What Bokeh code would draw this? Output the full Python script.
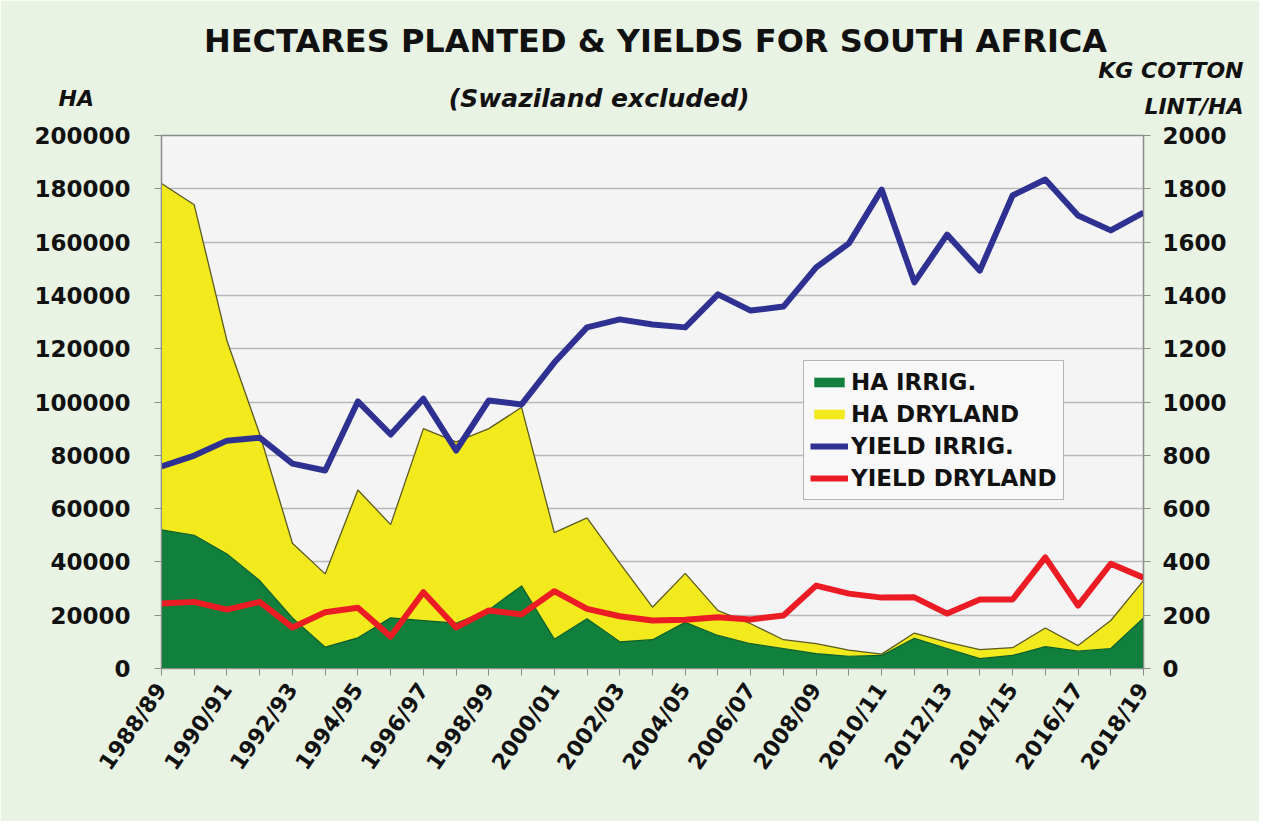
from bokeh.plotting import figure
from bokeh.models import (Range1d, LinearAxis, FixedTicker, Label, Legend, LegendItem,
                          BasicTickFormatter)
from bokeh.embed import file_html
from bokeh.resources import INLINE
import math

seasons = ["1988/89", "1989/90", "1990/91", "1991/92", "1992/93", "1993/94", "1994/95",
           "1995/96", "1996/97", "1997/98", "1998/99", "1999/00", "2000/01", "2001/02",
           "2002/03", "2003/04", "2004/05", "2005/06", "2006/07", "2007/08", "2008/09",
           "2009/10", "2010/11", "2011/12", "2012/13", "2013/14", "2014/15", "2015/16",
           "2016/17", "2017/18", "2018/19"]

ha_irrig = [52000, 50000, 43000, 33000, 19000, 8000, 11500, 19000, 18000, 17000, 22000,
            31000, 11000, 18700, 10000, 10800, 17300, 12400, 9300, 7500, 5600, 4600,
            4900, 11300, 7500, 3700, 4900, 8200, 6500, 7500, 19000]

ha_dryland = [130000, 124000, 80000, 55000, 28000, 27500, 55500, 35000, 72000, 68000, 68000,
              67000, 40000, 37800, 29500, 12200, 18400, 9300, 7500, 3300, 3700, 2300,
              500, 2000, 2400, 3400, 2900, 7000, 2100, 10500, 14000]

yield_irrig = [758, 799, 855, 866, 769, 743, 1002, 878, 1012, 818, 1006, 991, 1148, 1280,
               1310, 1291, 1280, 1404, 1343, 1358, 1505, 1595, 1797, 1449, 1628, 1493,
               1775, 1835, 1700, 1644, 1711]

yield_dryland = [244, 250, 221, 250, 154, 211, 228, 120, 286, 154, 218, 203, 290, 224, 196,
                 180, 183, 192, 184, 199, 311, 281, 266, 267, 206, 259, 259, 417, 236, 393, 341]

x = list(range(len(seasons)))
ha_total = [a + b for a, b in zip(ha_irrig, ha_dryland)]

FONT = "DejaVu Sans"
W, H = 1259, 821

p = figure(width=W, height=H, output_backend="svg", toolbar_location=None,
           x_range=Range1d(0, len(seasons) - 1), y_range=Range1d(0, 200000),
           min_border_left=161, min_border_right=W - 1143, min_border_top=135,
           min_border_bottom=H - 668)
p.title = None
p.extra_y_ranges = {"yield": Range1d(0, 2000)}

p.background_fill_color = "#F4F4F4"
p.border_fill_color = "#E9F3E3"
p.outline_line_color = "#8C8C8C"
p.outline_line_width = 1.5

p.xgrid.grid_line_color = None
p.ygrid.ticker = FixedTicker(ticks=list(range(0, 200001, 20000)))
p.ygrid.grid_line_color = "#B8B8B8"
p.ygrid.grid_line_width = 1.5

g_area = p.varea(x=x, y1=0, y2=ha_irrig, fill_color="#11803C")
y_area = p.varea(x=x, y1=ha_irrig, y2=ha_total, fill_color="#F3EA1E")
p.line(x, ha_total, line_color="#5B5A22", line_width=1.3)
p.line(x, ha_irrig, line_color="#0B5E2A", line_width=1.2)

b_line = p.line(x, yield_irrig, y_range_name="yield", line_color="#2E3192",
                line_width=6, line_join="round")
r_line = p.line(x, yield_dryland, y_range_name="yield", line_color="#EC1C24",
                line_width=6, line_join="round")

def style_axis(ax):
    ax.axis_line_color = "#8C8C8C"
    ax.major_tick_line_color = "#8C8C8C"
    ax.minor_tick_line_color = None
    ax.major_tick_out = 7
    ax.major_tick_in = 0
    ax.major_label_text_font = FONT
    ax.major_label_text_font_style = "bold"
    ax.major_label_text_color = "#111111"

xa = p.xaxis[0]
xa.ticker = FixedTicker(ticks=x)
xa.major_label_overrides = {i: (s if i % 2 == 0 else "") for i, s in enumerate(seasons)}
xa.major_label_orientation = math.radians(55)
xa.major_label_text_font_size = "22px"
xa.major_label_standoff = 10
style_axis(xa)

ya = p.yaxis[0]
ya.ticker = FixedTicker(ticks=list(range(0, 200001, 20000)))
ya.formatter = BasicTickFormatter(use_scientific=False)
ya.major_label_text_font_size = "23px"
ya.major_label_standoff = 24
style_axis(ya)

ra = LinearAxis(y_range_name="yield", ticker=FixedTicker(ticks=list(range(0, 2001, 200))),
                formatter=BasicTickFormatter(use_scientific=False))
ra.major_label_text_font_size = "23px"
ra.major_label_standoff = 12
style_axis(ra)
p.add_layout(ra, "right")

def make_label(cx, cy, text, size, align="center", italic=True, line_height=1.2):
    kw = dict(text=text, text_font=FONT,
              text_font_style="bold italic" if italic else "bold",
              text_font_size=size, text_align=align, text_baseline="middle",
              text_color="#111111", text_line_height=line_height)
    try:
        return Label(x=cx, y=cy, x_units="canvas", y_units="canvas", **kw)
    except Exception:
        return Label(x=cx, y=cy, x_units="screen", y_units="screen", **kw)

p.add_layout(make_label(1243, 88, "KG COTTON\nLINT/HA", "22px", align="right",
                        line_height=1.45), "above")
p.add_layout(make_label(603, 98, "(Swaziland  excluded)", "25px"), "above")
p.add_layout(make_label(655, 40, "HECTARES PLANTED & YIELDS FOR SOUTH AFRICA", "32px",
                        italic=False), "above")
p.add_layout(make_label(58, 98, "HA", "22px", align="left"), "below")

legend = Legend(items=[
    LegendItem(label="HA IRRIG.", renderers=[g_area]),
    LegendItem(label="HA DRYLAND", renderers=[y_area]),
    LegendItem(label="YIELD IRRIG.", renderers=[b_line]),
    LegendItem(label="YIELD DRYLAND", renderers=[r_line]),
], location=(642, 168))
legend.label_text_font = FONT
legend.label_text_font_style = "bold"
legend.label_text_font_size = "23px"
legend.label_text_color = "#111111"
legend.glyph_width = 38
legend.glyph_height = 12
legend.label_height = 30
legend.label_standoff = 3
legend.spacing = 2
legend.padding = 6
legend.margin = 0
legend.border_line_color = "#707070"
legend.border_line_width = 1.5
legend.background_fill_color = "#F8F8F8"
legend.background_fill_alpha = 1
p.add_layout(legend)

open("out.html", "w").write(file_html(p, INLINE))
